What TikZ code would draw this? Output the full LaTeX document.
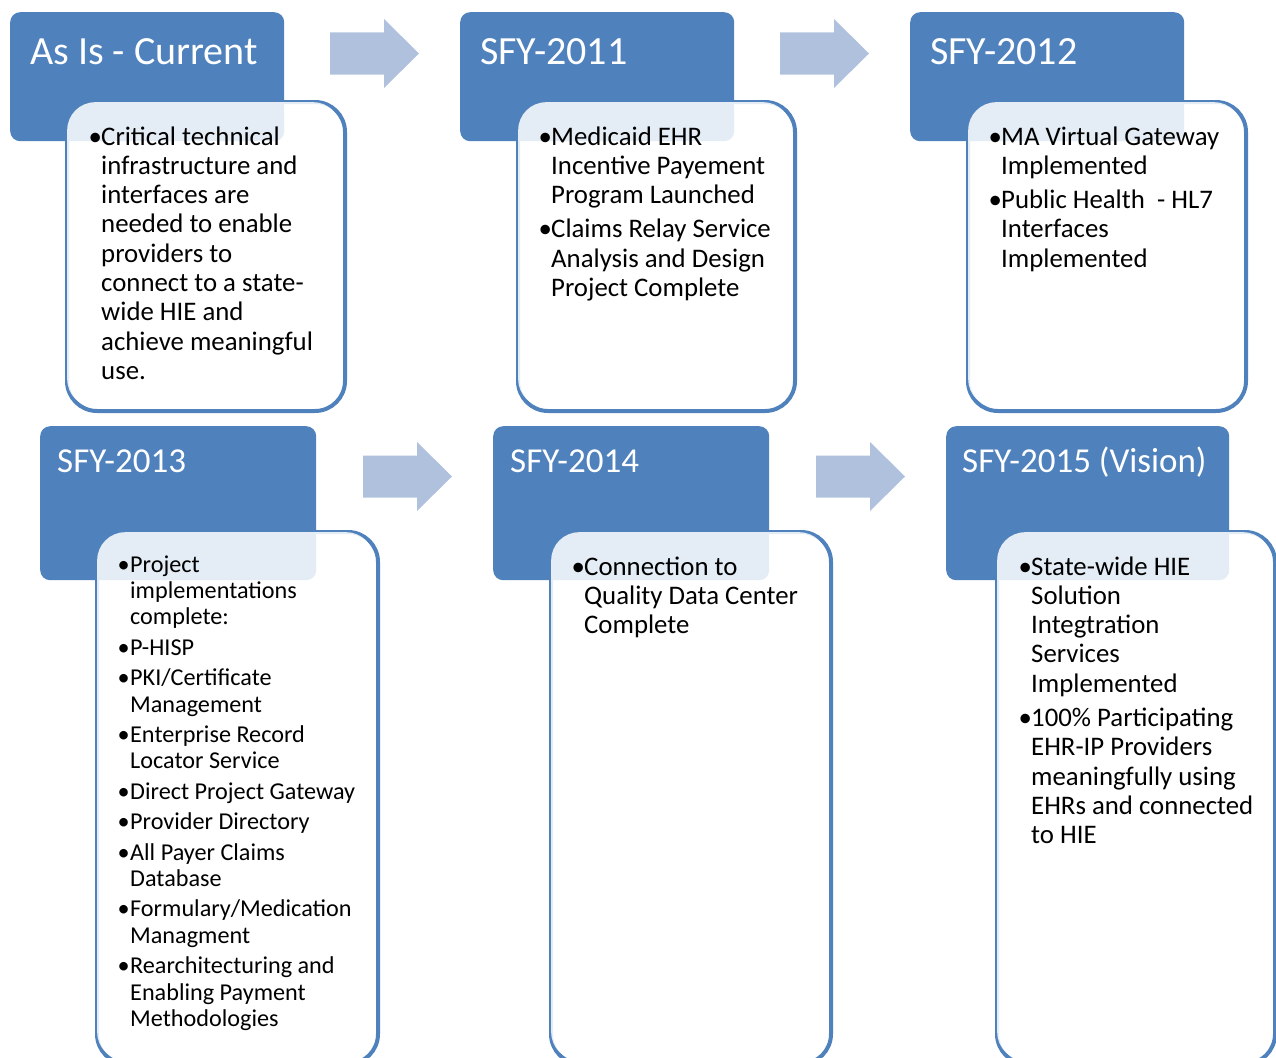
\documentclass[tikz,border=0pt]{standalone}
\usepackage{fontspec}
\setmainfont{Carlito}
\definecolor{hdrblue}{RGB}{79,129,189}
\definecolor{arrowblue}{RGB}{176,193,222}
\newcommand\bul{\makebox[11pt][l]{\kern-1.5pt•}}
\begin{document}
\begin{tikzpicture}[x=1pt,y=-1pt,
  hdr/.style={fill=hdrblue, rounded corners=10pt, anchor=north west, inner sep=0pt},
  card/.style={fill=white, draw=hdrblue, line width=4pt, rounded corners=30pt, anchor=north west, inner sep=0pt},
  veil/.style={fill=white, fill opacity=0.85, rounded corners=28pt, anchor=north west, inner sep=0pt},
  flow/.style={fill=arrowblue},
  flowarrow/.pic={\fill[flow] (0,-21) -- (54,-21) -- (54,-34.5) -- (89,0) -- (54,34.5) -- (54,21) -- (0,21) -- cycle;},
  titleA/.style={text=white, anchor=base west, inner sep=0pt, font=\fontsize{40}{44}\selectfont},
  titleB/.style={text=white, anchor=base west, inner sep=0pt, font=\fontsize{35}{40}\selectfont},
  bodyA/.style={anchor=base west, inner sep=0pt, align=left, font=\fontsize{26.8}{29.3}\selectfont},
  bodyB/.style={anchor=base west, inner sep=0pt, align=left, font=\fontsize{24.2}{26.4}\selectfont}
]
\useasboundingbox (0,0) rectangle (1276,1057);
\clip (0,0) rectangle (1276,1057);

% ---- cards (white text panels) ----
\node[card, minimum width=278pt, minimum height=309pt] (c1) at (65,100) {};
\node[card, minimum width=277pt, minimum height=309pt] (c2) at (516,100) {};
\node[card, minimum width=278pt, minimum height=309pt] (c3) at (966,100) {};
\node[card, minimum width=281pt, minimum height=532pt] (c4) at (95,530) {};
\node[card, minimum width=280pt, minimum height=532pt] (c5) at (549,530) {};
\node[card, minimum width=278pt, minimum height=532pt] (c6) at (995,530) {};

% ---- headers ----
\node[hdr, minimum width=274pt, minimum height=129pt] (h1) at (10,12) {};
\node[hdr, minimum width=274pt, minimum height=129pt] (h2) at (460,12) {};
\node[hdr, minimum width=274pt, minimum height=129pt] (h3) at (910,12) {};
\node[hdr, minimum width=276pt, minimum height=154pt] (h4) at (40,426) {};
\node[hdr, minimum width=276pt, minimum height=154pt] (h5) at (493,426) {};
\node[hdr, minimum width=283pt, minimum height=154pt] (h6) at (946,426) {};

% ---- translucent panel interior over the header corner ----
\node[veil, minimum width=274pt, minimum height=305pt] (v1) at (67,102) {};
\node[veil, minimum width=273pt, minimum height=305pt] (v2) at (518,102) {};
\node[veil, minimum width=274pt, minimum height=305pt] (v3) at (968,102) {};
\node[veil, minimum width=277pt, minimum height=528pt] (v4) at (97,532) {};
\node[veil, minimum width=276pt, minimum height=528pt] (v5) at (551,532) {};
\node[veil, minimum width=274pt, minimum height=528pt] (v6) at (997,532) {};

% ---- flow arrows ----
\pic at (330,53.5) {flowarrow};
\pic at (780,53.5) {flowarrow};
\pic at (363,476.5) {flowarrow};
\pic at (816,476.5) {flowarrow};

% ---- header titles ----
\node[titleA] (t1) at (30,64) {As Is - Current};
\node[titleA] (t2) at (480,64) {SFY-2011};
\node[titleA] (t3) at (930,64) {SFY-2012};
\node[titleB] (t4) at (57,472) {SFY-2013};
\node[titleB] (t5) at (510,472) {SFY-2014};
\node[titleB] (t6) at (962,472) {SFY-2015 (Vision)};

% ---- panel texts ----
\node[bodyA] (b1) at (90,145) {\begin{tabular}[t]{@{}l@{}l@{}}
\bul&Critical technical\\
&infrastructure and\\
&interfaces are\\
&needed to enable\\
&providers to\\
&connect to a state-\\
&wide HIE and\\
&achieve meaningful\\
&use.
\end{tabular}};

\node[bodyA] (b2) at (540,145) {\begin{tabular}[t]{@{}l@{}l@{}}
\bul&Medicaid EHR\\
&Incentive Payement\\
&Program Launched\\[5pt]
\bul&Claims Relay Service\\
&Analysis and Design\\
&Project Complete
\end{tabular}};

\node[bodyA] (b3) at (990,145) {\begin{tabular}[t]{@{}l@{}l@{}}
\bul&MA Virtual Gateway\\
&Implemented\\[5pt]
\bul&Public Health\ \ - HL7\\
&Interfaces\\
&Implemented
\end{tabular}};

\node[bodyB] (b4) at (119,572) {\begin{tabular}[t]{@{}l@{}l@{}}
\bul&Project\\
&implementations\\
&complete:\\[4pt]
\bul&P-HISP\\[4pt]
\bul&PKI/Certificate\\
&Management\\[4pt]
\bul&Enterprise Record\\
&Locator Service\\[4pt]
\bul&Direct Project Gateway\\[4pt]
\bul&Provider Directory\\[4pt]
\bul&All Payer Claims\\
&Database\\[4pt]
\bul&Formulary/Medication\\
&Managment\\[4pt]
\bul&Rearchitecturing and\\
&Enabling Payment\\
&Methodologies
\end{tabular}};

\node[bodyA] (b5) at (573,575) {\begin{tabular}[t]{@{}l@{}l@{}}
\bul&Connection to\\
&Quality Data Center\\
&Complete
\end{tabular}};

\node[bodyA] (b6) at (1020,575) {\begin{tabular}[t]{@{}l@{}l@{}}
\bul&State-wide HIE\\
&Solution\\
&Integtration\\
&Services\\
&Implemented\\[5pt]
\bul&100\% Participating\\
&EHR-IP Providers\\
&meaningfully using\\
&EHRs and connected\\
&to HIE
\end{tabular}};
\end{tikzpicture}
\end{document}
